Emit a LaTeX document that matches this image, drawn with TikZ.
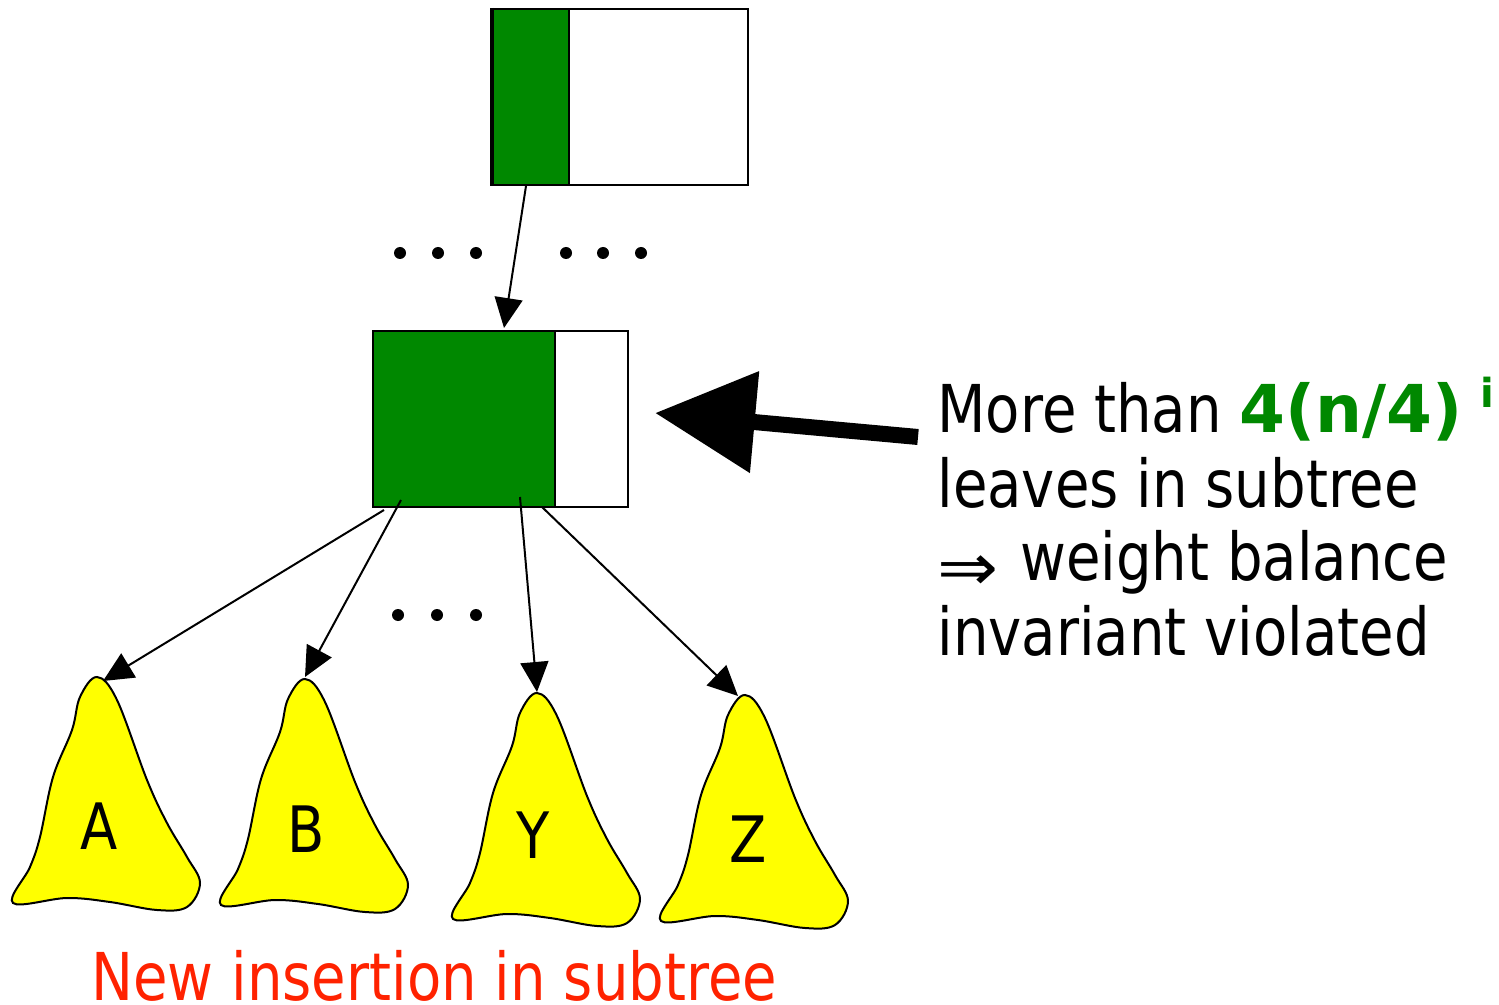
\documentclass[tikz,border=0pt]{standalone}
\usepackage{fontspec}
\setmainfont{DejaVu Sans}[FakeStretch=0.85]
\newfontfamily\gboldfont{DejaVu Sans Bold}
\usetikzlibrary{arrows.meta,calc}
\definecolor{ggreen}{RGB}{0,136,0}
\definecolor{yel}{RGB}{255,255,0}
\definecolor{rred}{RGB}{255,34,0}
\begin{document}
\begin{tikzpicture}[x=0.5pt,y=-0.5pt,
 arr/.style={line width=1pt,-{Triangle[length=15pt,width=14pt]}},
 big/.style={line width=8pt,-{Triangle[length=50pt,width=49pt]}},
 box/.style={draw,line width=1pt,inner sep=0pt,anchor=north west},
 txt/.style={font=\fontsize{33}{37}\selectfont,anchor=base west,inner sep=0pt},
 lbl/.style={font=\fontsize{32}{32}\selectfont,anchor=base,inner sep=0pt},
 dot/.style={fill=black},
 blob/.pic={\draw[fill=yel,line width=1pt] plot[smooth cycle,tension=0.6] coordinates {(0,0) (20,23) (50,103) (70,146) (90,180) (103,206) (90,230) (60,233) (13,225) (-30,221) (-84,226) (-67,190) (-57,160) (-44,100) (-25,53) (-17,20)};}
]
\useasboundingbox (0,0) rectangle (1499,1005);
% top node
\node[box,fill=white,minimum width=89.5pt,minimum height=88pt] (topw) at (568,8) {};
\node[box,fill=ggreen,minimum width=38pt,minimum height=88pt] (topg) at (492,8) {};
\draw[line width=2pt] (topg.north west) -- (topg.south west);
% middle node
\node[box,fill=white,minimum width=36.5pt,minimum height=88pt] (midw) at (554,330) {};
\node[box,fill=ggreen,minimum width=91pt,minimum height=88pt] (midg) at (372,330) {};
% dots
\foreach \x in {400,438,476,566,603,641} \fill[dot] (\x,253) circle[radius=3pt];
\foreach \x in {398,437,476} \fill[dot] (\x,615) circle[radius=3pt];
% arrow top -> middle
\draw[arr] ($(topg.south)+(-5,0)$) -- ($(midg.north)+(40,-2)$);
% subtrees
\coordinate (pA) at (97,677);
\coordinate (pB) at (305,679);
\coordinate (pY) at (537,693);
\coordinate (pZ) at (745,695);
\pic at (pA) {blob};
\pic at (pB) {blob};
\pic at (pY) {blob};
\pic at (pZ) {blob};
\node[lbl] (lA) at (99.5,849) {A};
\node[lbl] (lB) at (306,852) {B};
\node[lbl] (lY) at (533,858) {Y};
\node[lbl] (lZ) at (748,862) {Z};
% arrows middle -> subtrees
\coordinate (sA) at (384,510);
\coordinate (sB) at (401,500);
\coordinate (sY) at (520,497);
\coordinate (sZ) at (542,507);
\draw[arr] (sA) -- ($(pA)+(6,4)$);
\draw[arr] (sB) -- ($(pB)+(0,-2)$);
\draw[arr] (sY) -- ($(pY)+(0,-1)$);
\draw[arr] (sZ) -- ($(pZ)+(-7,1)$);
% big arrow
\coordinate (bs) at (918,437);
\draw[big] (bs) -- ($(midw.east)+(26,-6)$);
% text
\node[txt] (l1) at (937,433) {More than {\gboldfont\color{ggreen}4(n/4)}\hspace{9pt}\raisebox{13pt}{\fontsize{20}{20}\gboldfont\color{ggreen}i}};
\node[txt] (l2) at (937,507) {leaves in subtree};
\node[txt] (l3) at (937,580) {\raisebox{-5pt}{\scalebox{1.3}[1]{⇒}}\hspace{2pt} weight balance};
\node[txt] (l4) at (937,655) {invariant violated};
\node[txt,text=rred,font=\fontsize{33}{33}\selectfont] (ins) at (91,1000) {New insertion in subtree};
\end{tikzpicture}
\end{document}
